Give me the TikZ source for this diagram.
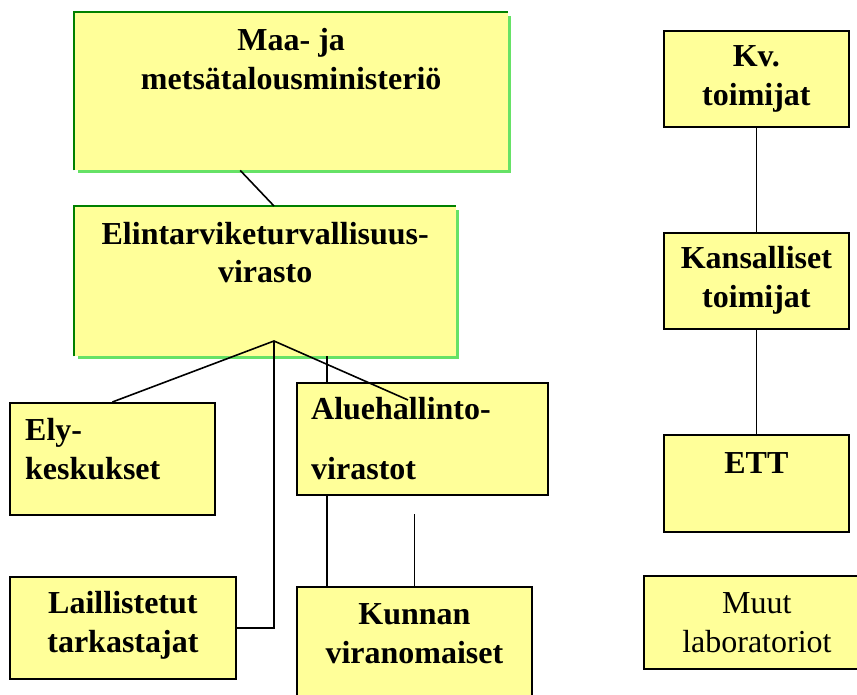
\documentclass[tikz,border=0pt]{standalone}
\usepackage{fontspec}
\setmainfont{Liberation Serif}
\definecolor{boxyellow}{RGB}{255,255,153}
\definecolor{darkgreen}{RGB}{0,128,0}
\definecolor{lightgreen}{RGB}{102,226,102}

\tikzset{
    box/.style={draw=black, line width=1.8pt, fill=boxyellow, anchor=north west, inner sep=0pt},
    greenbox/.style={fill=boxyellow, anchor=north west, inner sep=0pt},
    txt/.style={font=\bfseries\fontsize{32}{39}\selectfont, align=center, inner sep=0pt, anchor=base},
    conn/.style={line width=1.6pt},
}

\begin{document}
\begin{tikzpicture}[x=1pt, y=-1pt]
    \useasboundingbox[fill=white] (0, 0) rectangle (857, 695);
    % ministry and agency (green frames)
    \node[greenbox, minimum width=434pt, minimum height=158pt] (mmm) at (74, 12) {};
    \node[greenbox, minimum width=382pt, minimum height=150pt] (evira) at (74, 206) {};
    \foreach \b in {mmm, evira} {
        \draw[darkgreen, line width=2.5pt] (\b.south west) |- (\b.north east);
        \draw[lightgreen, line width=3pt] ([shift={(4pt,-1.5pt)}]\b.south west) -| ([shift={(1.5pt,-4pt)}]\b.north east);
    }

    % left part
    \node[box, minimum width=205pt, minimum height=112pt] (ely) at (9, 402) {};
    \node[box, minimum width=251pt, minimum height=112pt] (alue) at (296, 382) {};
    \node[box, minimum width=226pt, minimum height=102pt] (laill) at (9, 576) {};
    \node[box, minimum width=235pt, minimum height=120pt] (kunnan) at (296, 586) {};

    % right column
    \node[box, minimum width=185pt, minimum height=96pt] (kv) at (663, 30) {};
    \node[box, minimum width=185pt, minimum height=96pt] (kans) at (663, 232) {};
    \node[box, minimum width=185pt, minimum height=97pt] (ett) at (663, 434) {};
    \node[box, minimum width=226pt, minimum height=93pt] (muut) at (643, 575) {};

    % texts (base = baseline of the last line)
    \node[txt] (mmmtxt) at ([yshift=-78pt]mmm.north) {Maa- ja\\metsätalousministeriö};
    \node[txt] (eviratxt) at ([yshift=-77pt]evira.north) {Elintarviketurvallisuus-\\virasto};
    \node[txt, align=left, anchor=base west] (elytxt) at ([shift={(16pt,-77pt)}]ely.north west) {Ely-\\keskukset};
    \node[txt, align=left, anchor=base west] (aluetxt) at ([shift={(15pt,-97pt)}]alue.north west) {Aluehallinto-\\[21pt]virastot};
    \node[txt] (lailltxt) at ([yshift=-76pt]laill.north) {Laillistetut\\tarkastajat};
    \node[txt] (kunnantxt) at ([yshift=-77pt]kunnan.north) {Kunnan\\viranomaiset};
    \node[txt] (kvtxt) at ([yshift=-76pt]kv.north) {Kv.\\toimijat};
    \node[txt] (kanstxt) at ([yshift=-75pt]kans.north) {Kansalliset\\toimijat};
    \node[txt] (etttxt) at ([yshift=-39pt]ett.north) {ETT};
    \node[txt, font=\fontsize{32}{39}\selectfont] (muuttxt) at ([yshift=-77pt]muut.north) {Muut\\laboratoriot};

    % connectors
    \coordinate (hub) at (274, 341);
    \coordinate (aluein) at (408, 400);
    \coordinate (kfree) at ([yshift=72pt]kunnan.north);
    \coordinate (aluetop) at ([xshift=31pt]alue.north west);
    \coordinate (aluebot) at ([xshift=31pt]alue.south west);
    \draw[conn] ([xshift=-51pt]mmm.south) -- (hub |- evira.north);
    \draw[conn] (ely.north) -- (hub) -- (aluein);
    \draw[conn] (hub) |- (laill.east);
    \draw[conn] (aluetop |- evira.south) -- (aluetop);
    \draw[conn] (aluebot) -- (aluebot |- kunnan.north);
    \draw[conn] (kfree) -- (kunnan.north);
    \draw[conn] (kv.south) -- (kans.north);
    \draw[conn] (kans.south) -- (ett.north);
\end{tikzpicture}
\end{document}
